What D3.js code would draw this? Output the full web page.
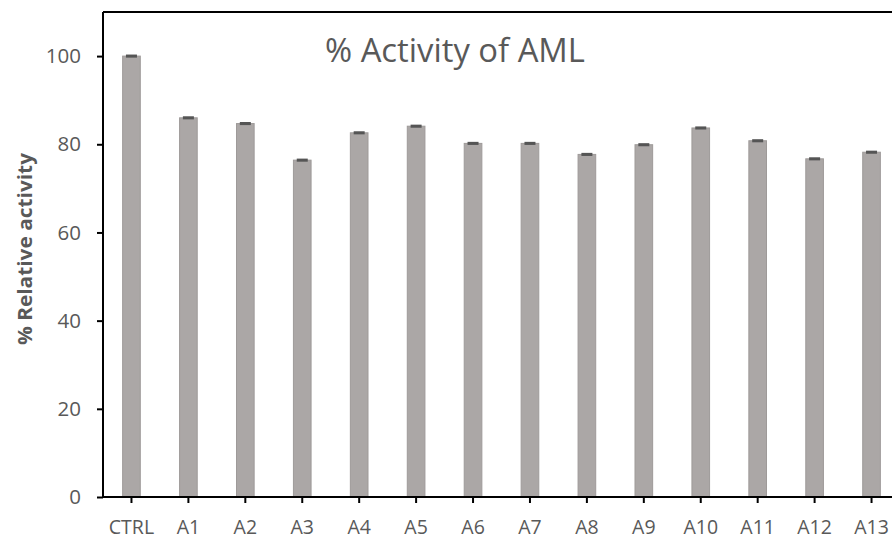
<!DOCTYPE html>
<html>
<head>
<meta charset="utf-8">
<script src="https://cdn.jsdelivr.net/npm/d3@7"></script>
<style>
  html, body { margin: 0; padding: 0; background: #fff; }
  svg { display: block; }
</style>
</head>
<body>
<svg id="chart" width="892" height="540"></svg>
<script>
const categories = ["CTRL","A1","A2","A3","A4","A5","A6","A7","A8","A9","A10","A11","A12","A13"];
const values = [100, 86.0, 84.7, 76.4, 82.6, 84.1, 80.2, 80.2, 77.7, 79.9, 83.7, 80.8, 76.7, 78.2];
const errors = [0.35, 0.35, 0.35, 0.35, 0.35, 0.35, 0.35, 0.35, 0.35, 0.35, 0.35, 0.35, 0.35, 0.35];
const yTicks = [0, 20, 40, 60, 80, 100];
const title = "% Activity of AML";
const yLabel = "% Relative activity";

(function () {
const svg = d3.select("#chart");
const mLeft = 103, mRight = 900, mTop = 12, mBottom = 497;
const font = "'Open Sans', sans-serif";
const textColor = "#595959";

const x = d3.scaleBand().domain(categories).range([mLeft, mRight]).paddingInner(0.69).paddingOuter(0.345);
const y = d3.scaleLinear().domain([0, 110]).range([mBottom, mTop]);

// bars
svg.append("g").selectAll("rect").data(categories).join("rect")
  .attr("x", d => x(d))
  .attr("width", x.bandwidth())
  .attr("y", (d, i) => y(values[i]))
  .attr("height", (d, i) => y(0) - y(values[i]))
  .attr("fill", "#aba7a6")
  .attr("stroke", "#9e9a99")
  .attr("stroke-width", 1);

// error caps
svg.append("g").selectAll("rect").data(categories).join("rect")
  .attr("x", d => x(d) + x.bandwidth() / 2 - 5.5)
  .attr("width", 11)
  .attr("y", (d, i) => y(values[i] + errors[i]))
  .attr("height", (d, i) => y(values[i] - errors[i]) - y(values[i] + errors[i]))
  .attr("fill", "#555555");

// top frame line
svg.append("line").attr("x1", mLeft).attr("x2", mRight).attr("y1", mTop).attr("y2", mTop)
  .attr("stroke", "#000").attr("stroke-width", 2);

// y axis
const yAxis = svg.append("g").attr("transform", `translate(${mLeft},0)`)
  .call(d3.axisLeft(y).tickValues(yTicks).tickSize(6).tickPadding(16));
yAxis.select(".domain").attr("d", `M0,${mTop}V${mBottom}`).attr("stroke", "#000").attr("stroke-width", 2);
yAxis.selectAll(".tick line").attr("stroke", "#000").attr("stroke-width", 2);
yAxis.selectAll(".tick text").attr("font-family", font).attr("font-size", 20.5).attr("fill", textColor);

// x axis
const xAxis = svg.append("g").attr("transform", `translate(0,${mBottom})`)
  .call(d3.axisBottom(x).tickSize(6).tickPadding(17));
xAxis.select(".domain").attr("d", `M${mLeft},0H${mRight}`).attr("stroke", "#000").attr("stroke-width", 2);
xAxis.selectAll(".tick line").attr("stroke", "#000").attr("stroke-width", 2);
xAxis.selectAll(".tick text").attr("font-family", font).attr("font-size", 19.5).attr("fill", textColor);

// title
svg.append("text").attr("x", 455).attr("y", 62).attr("text-anchor", "middle")
  .attr("font-family", font).attr("font-size", 33).attr("fill", textColor)
  .attr("textLength", 260).attr("lengthAdjust", "spacingAndGlyphs").text(title);

// y label
svg.append("text").attr("transform", `translate(32,249) rotate(-90)`).attr("text-anchor", "middle")
  .attr("font-family", font).attr("font-size", 20).attr("font-weight", "bold").attr("fill", textColor)
  .attr("textLength", 192).attr("lengthAdjust", "spacingAndGlyphs").text(yLabel);
})();
</script>
</body>
</html>
